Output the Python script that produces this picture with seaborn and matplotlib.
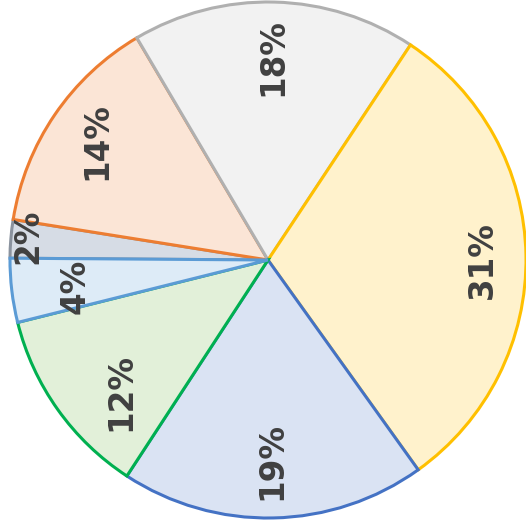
import numpy as np
import matplotlib
matplotlib.use("Agg")
import matplotlib.pyplot as plt
import seaborn as sns

sns.set_style("white")

# Slice shares, in drawing order (clockwise from the left edge)
shares = [2.4, 14.0, 17.8, 30.8, 19.1, 11.9, 4.0]
labels = ["2%", "14%", "18%", "31%", "19%", "12%", "4%"]

fills = ["#D6DCE5", "#FBE5D6", "#F2F2F2", "#FFF2CC", "#DAE3F3", "#E2F0D9", "#DDEBF7"]
edges = ["#8A929E", "#ED7D31", "#B0B0B0", "#FFC000", "#4472C4", "#00B050", "#5B9BD5"]

# label placement: distance from centre (fraction of radius) and angle nudge (deg)
label_dist = [0.936, 0.808, 0.787, 0.829, 0.779, 0.766, 0.755]
label_nudge = [-0.8, -0.5, 0.0, -1.0, 0.0, 6.5, 1.0]

fig = plt.figure(figsize=(5.26, 5.29), dpi=100)
ax = fig.add_axes([10 / 526, 11 / 529, 516 / 526, 516 / 529])

wedges, _ = ax.pie(shares, startangle=179.6, counterclock=False,
                   colors=fills, radius=1.0,
                   wedgeprops=dict(linewidth=2.2))

for w, ec, lab, d, nud in zip(wedges, edges, labels, label_dist, label_nudge):
    w.set_edgecolor(ec)
    w.set_clip_on(False)
    ang = np.deg2rad((w.theta1 + w.theta2) / 2 + nud)
    ax.text(d * np.cos(ang), d * np.sin(ang), lab, rotation=90,
            ha="center", va="center", fontsize=23.5, fontweight="bold",
            color="#404040")

ax.set_xlim(-1, 1)
ax.set_ylim(-1, 1)
ax.set_aspect("equal")
ax.axis("off")

fig.savefig("out.png", dpi=100, facecolor="white")
